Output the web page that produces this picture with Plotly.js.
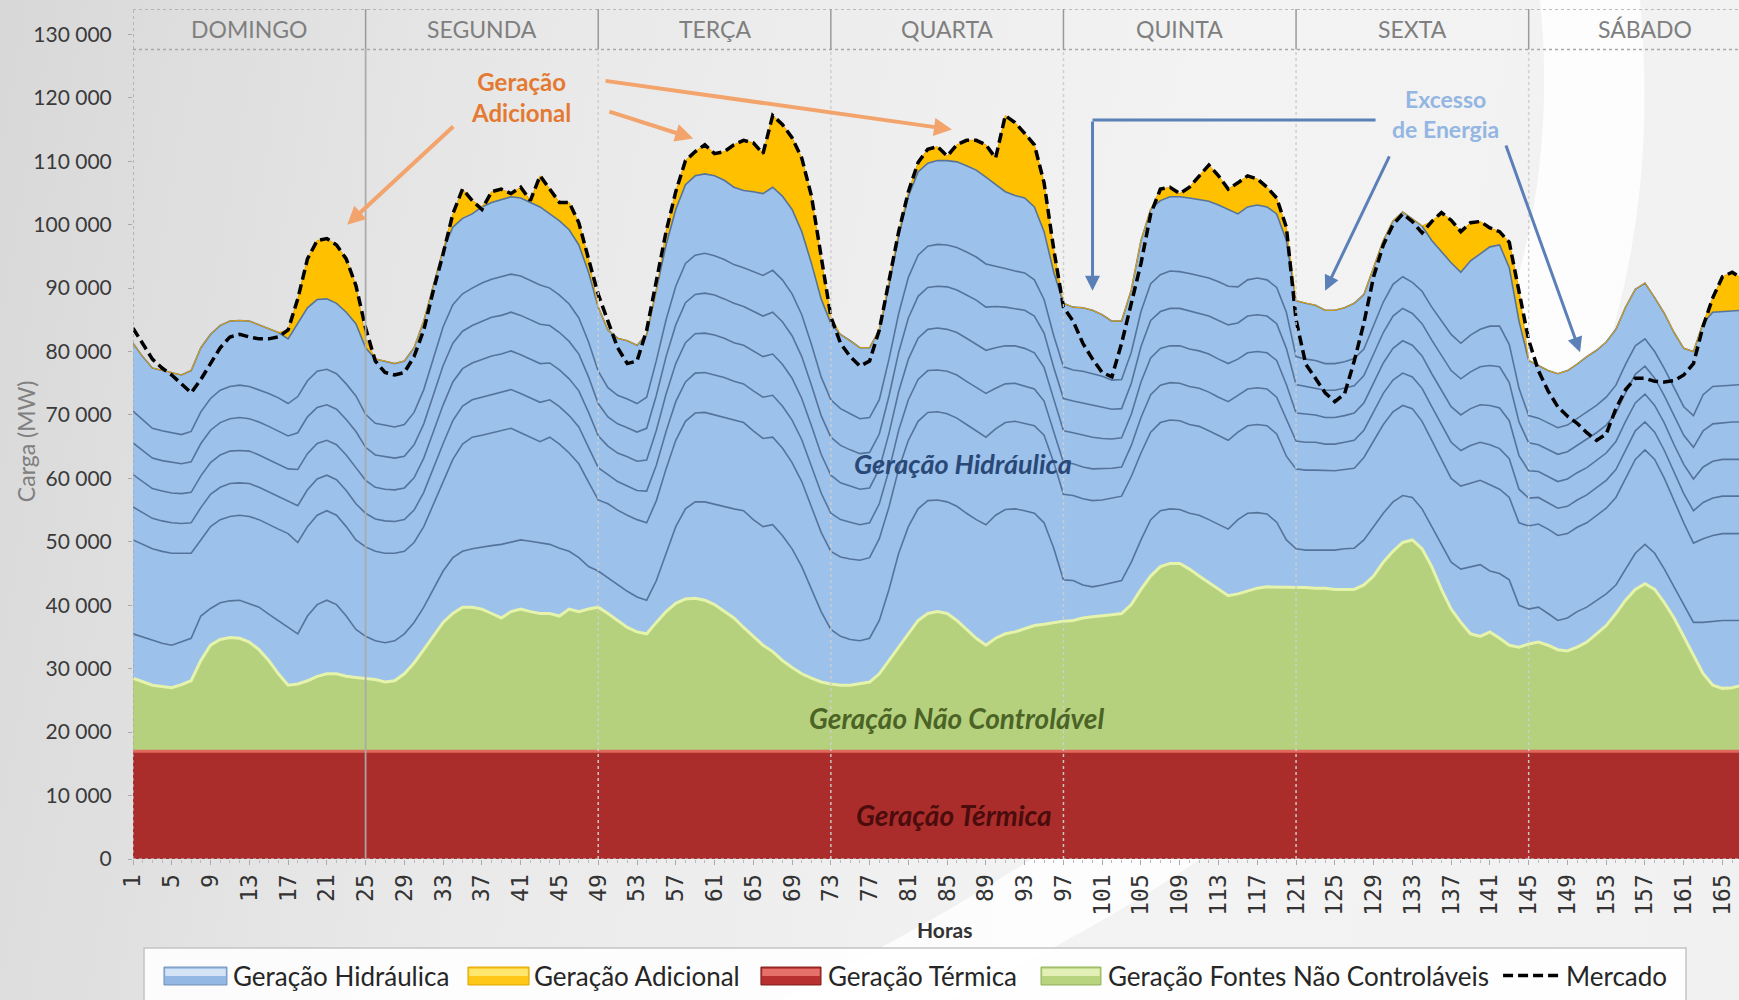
<!DOCTYPE html>
<html>
<head>
<meta charset="utf-8">
<script src="https://cdn.plot.ly/plotly-3.0.1.min.js"></script>
<style>
  html, body { margin:0; padding:0; width:1739px; height:1000px; overflow:hidden;
    background: linear-gradient(100deg, #d8d8d8 0%, #e9e9e9 30%, #f3f3f3 65%, #f1f1f1 100%); }
  #chart { width:1739px; height:1000px; }
</style>
</head>
<body>
<div id="chart"></div>
<script>
// Hours (categories)
const hours = [1,2,3,4,5,6,7,8,9,10,11,12,13,14,15,16,17,18,19,20,21,22,23,24,
25,26,27,28,29,30,31,32,33,34,35,36,37,38,39,40,41,42,43,44,45,46,47,48,
49,50,51,52,53,54,55,56,57,58,59,60,61,62,63,64,65,66,67,68,69,70,71,72,
73,74,75,76,77,78,79,80,81,82,83,84,85,86,87,88,89,90,91,92,93,94,95,96,
97,98,99,100,101,102,103,104,105,106,107,108,109,110,111,112,113,114,115,116,117,118,119,120,
121,122,123,124,125,126,127,128,129,130,131,132,133,134,135,136,137,138,139,140,141,142,143,144,
145,146,147,148,149,150,151,152,153,154,155,156,157,158,159,160,161,162,163,164,165,166,167,168];

// Values in thousands of MW (cumulative tops of the stacked areas)
const termica = [17,17,17,17,17,17,17,17,17,17,17,17,17,17,17,17,17,17,17,17,17,17,17,17,
17,17,17,17,17,17,17,17,17,17,17,17,17,17,17,17,17,17,17,17,17,17,17,17,
17,17,17,17,17,17,17,17,17,17,17,17,17,17,17,17,17,17,17,17,17,17,17,17,
17,17,17,17,17,17,17,17,17,17,17,17,17,17,17,17,17,17,17,17,17,17,17,17,
17,17,17,17,17,17,17,17,17,17,17,17,17,17,17,17,17,17,17,17,17,17,17,17,
17,17,17,17,17,17,17,17,17,17,17,17,17,17,17,17,17,17,17,17,17,17,17,17,
17,17,17,17,17,17,17,17,17,17,17,17,17,17,17,17,17,17,17,17,17,17,17,17];

const naoControlavelTopo = [28.5,28.0,27.4,27.2,27.0,27.5,28.1,31.3,33.7,34.6,34.9,34.8,34.2,33.0,31.3,29.2,27.4,27.6,28.1,28.8,29.2,29.2,28.8,28.6,
28.5,28.3,27.9,28.1,29.2,30.9,33.0,35.1,37.3,38.7,39.7,39.7,39.4,38.7,38.0,39.0,39.4,39.0,38.7,38.7,38.3,39.4,39.0,39.4,
39.7,38.7,37.6,36.5,35.8,35.5,37.3,39.0,40.3,41.0,41.1,40.8,40.1,39.0,38.0,36.5,35.1,33.7,32.7,31.3,30.2,29.2,28.5,27.9,
27.6,27.4,27.4,27.6,27.9,29.2,31.3,33.4,35.5,37.6,38.7,39.0,38.7,37.6,36.2,34.8,33.7,34.8,35.5,35.8,36.3,36.8,37.0,37.3,
37.5,37.6,38.0,38.2,38.3,38.5,38.7,40.1,42.5,44.6,46.1,46.6,46.6,45.7,44.6,43.6,42.5,41.5,41.8,42.3,42.7,42.9,42.9,42.9,
42.9,42.8,42.7,42.7,42.5,42.5,42.5,43.2,44.6,46.8,48.5,49.9,50.3,48.9,46.1,42.5,39.4,37.3,35.5,35.1,35.8,34.8,33.7,33.4,
33.9,34.2,33.7,33.0,32.8,33.4,34.2,35.5,36.8,38.7,40.8,42.5,43.4,42.5,40.4,38.0,35.1,32.3,29.2,27.4,26.9,27.0,27.4,27.6];

const hidroL1 = [35.5,35.0,34.4,34.0,33.7,34.2,34.8,38.3,39.5,40.4,40.7,40.8,40.3,39.7,38.6,37.6,36.5,35.5,38.3,40.1,40.8,40.1,38.3,36.2,
35.1,34.4,34.1,34.4,35.5,37.3,39.7,42.5,45.4,47.5,48.5,48.9,49.2,49.4,49.6,50.0,50.3,50.1,49.9,49.6,49.0,48.5,47.5,46.1,
45.4,44.3,43.2,42.2,41.3,40.8,43.9,48.2,52.4,55.2,56.3,56.3,55.9,55.6,55.2,54.9,53.5,52.4,52.7,51.0,48.9,46.1,42.5,39.0,
36.2,35.1,34.6,34.4,34.8,37.6,42.5,48.2,52.4,55.2,56.5,56.6,56.3,55.6,54.5,53.5,52.7,54.2,55.1,55.2,54.9,54.5,53.0,49.0,
44.0,43.9,43.2,42.9,43.2,43.6,43.9,46.8,50.3,53.5,54.9,55.2,55.1,54.5,54.2,53.5,52.7,52.0,53.5,54.5,54.6,54.4,53.1,50.3,
48.9,48.7,48.7,48.7,48.7,48.9,49.0,50.3,52.4,54.5,56.3,57.3,57.0,55.2,52.4,49.6,46.8,45.7,46.1,46.4,45.4,45.0,44.0,40.0,
39.4,39.7,38.7,37.6,38.0,39.0,39.7,40.8,41.8,43.2,45.7,48.2,49.6,48.2,45.7,42.9,40.1,37.3,37.3,37.5,37.6,37.6,37.6,37.6];

const hidroL2 = [50.3,49.6,48.9,48.5,48.2,48.2,48.2,50.3,52.4,53.5,54.0,54.2,54.0,53.5,52.7,52.0,51.3,49.9,52.4,54.2,54.9,54.2,52.4,50.3,
49.2,48.5,48.2,48.2,48.5,49.9,52.4,55.9,59.4,63.0,65.4,66.5,66.8,67.2,67.5,67.9,67.2,66.5,65.8,66.5,65.4,64.0,62.3,59.4,
56.6,56.0,55.0,54.2,53.5,53.0,56.5,61.5,66.0,69.0,70.3,70.4,70.0,69.6,69.2,68.8,67.5,66.3,66.5,64.8,62.5,59.5,55.5,51.5,
48.5,47.6,47.3,47.1,47.5,50.5,55.5,61.5,66.0,69.0,70.4,70.5,70.2,69.5,68.5,67.5,66.5,67.8,68.8,69.0,68.7,68.3,66.8,62.5,
57.5,57.3,56.8,56.5,56.6,56.9,57.2,60.3,64.0,67.3,68.8,69.2,69.1,68.5,68.2,67.5,66.7,66.0,67.3,68.3,68.5,68.3,67.0,63.5,
61.5,61.3,61.3,61.2,61.2,61.4,61.6,63.3,66.0,68.5,70.5,71.5,71.0,69.0,66.0,63.0,60.0,58.8,59.3,59.7,59.0,58.3,57.0,53.0,
52.5,52.8,52.0,51.0,51.3,52.3,53.0,54.2,55.3,57.0,60.0,63.0,64.5,63.0,60.0,56.5,53.0,49.8,50.5,51.0,51.3,51.3,51.3,51.3];

const hidroL2b = [55.5,54.6,53.7,53.3,53.0,52.9,53.0,55.4,57.5,58.6,59.2,59.3,59.2,58.6,57.9,57.2,56.4,55.7,58.2,59.9,60.5,59.8,58.1,56.0,
54.5,53.6,53.3,53.2,53.5,55.0,57.8,61.7,65.5,69.1,71.4,72.4,72.8,73.3,73.6,74.0,73.4,72.7,72.0,72.4,71.3,69.9,68.1,64.9,
61.7,60.6,59.5,58.8,58.1,58.0,62.1,67.4,72.1,75.2,76.6,76.7,76.3,75.9,75.3,74.9,73.8,72.8,73.1,71.4,69.2,66.1,61.9,57.7,
54.5,53.5,53.1,52.7,53.0,56.0,61.3,67.6,72.4,75.6,77.0,77.1,76.9,76.3,75.3,74.4,73.4,74.2,74.9,75.0,74.6,74.1,72.2,67.5,
62.5,62.3,61.8,61.5,61.5,61.6,61.8,65.2,69.6,73.2,74.7,75.1,75.0,74.5,74.2,73.6,72.8,72.1,73.1,74.1,74.3,74.1,72.8,69.2,
65.9,65.7,65.7,65.4,65.4,65.7,66.0,67.6,70.6,73.4,75.5,76.6,76.0,74.2,71.3,68.5,65.7,64.4,65.2,65.7,65.3,64.7,63.1,58.3,
56.9,57.0,56.2,55.3,55.6,56.6,57.4,58.6,59.7,61.4,64.5,67.5,68.9,67.3,64.4,60.9,57.6,54.9,56.2,56.9,57.2,57.2,57.2,57.2];

const hidroL3 = [60.6,59.5,58.4,58.0,57.7,57.6,57.8,60.4,62.5,63.7,64.3,64.4,64.3,63.7,63.0,62.3,61.5,61.4,63.9,65.5,66.0,65.3,63.7,61.7,
59.7,58.6,58.3,58.2,58.5,60.1,63.2,67.4,71.6,75.2,77.3,78.2,78.8,79.3,79.6,80.1,79.5,78.8,78.1,78.2,77.1,75.7,73.8,70.4,
66.7,65.1,64.0,63.4,62.7,62.9,67.6,73.3,78.1,81.4,82.8,82.9,82.6,82.1,81.4,81.0,80.1,79.2,79.6,78.0,75.8,72.6,68.3,63.8,
60.5,59.3,58.8,58.3,58.5,61.5,67.1,73.7,78.8,82.1,83.5,83.7,83.5,83.0,82.1,81.2,80.2,80.6,80.9,80.9,80.5,79.8,77.5,72.5,
67.5,67.2,66.8,66.5,66.3,66.2,66.4,70.1,75.2,79.0,80.5,80.9,80.9,80.4,80.1,79.6,78.8,78.1,78.8,79.8,80.0,79.8,78.6,74.8,
70.3,70.1,70.0,69.6,69.6,69.9,70.3,71.9,75.1,78.2,80.5,81.7,81.0,79.3,76.5,73.9,71.3,70.0,71.0,71.6,71.5,71.1,69.1,63.6,
61.2,61.1,60.3,59.5,59.9,60.9,61.7,62.9,64.0,65.8,69.0,71.9,73.3,71.5,68.7,65.3,62.2,59.9,61.8,62.7,63.0,63.0,63.0,63.0];

const hidroL3b = [65.6,64.4,63.2,62.8,62.5,62.3,62.6,65.5,67.6,68.8,69.4,69.6,69.4,68.9,68.2,67.5,66.7,67.2,69.7,71.2,71.6,70.9,69.3,67.4,
64.9,63.7,63.4,63.2,63.5,65.3,68.6,73.2,77.8,81.3,83.2,84.1,84.8,85.4,85.7,86.2,85.7,85.0,84.3,84.1,83.0,81.6,79.6,76.0,
71.8,69.7,68.6,68.0,67.3,67.9,73.1,79.2,84.2,87.7,89.0,89.2,88.9,88.3,87.6,87.1,86.4,85.6,86.2,84.7,82.5,79.2,74.7,69.9,
66.5,65.2,64.5,63.9,64.1,67.0,73.0,79.9,85.3,88.7,90.1,90.3,90.2,89.7,88.9,88.1,87.0,87.1,87.0,86.8,86.5,85.6,82.9,77.5,
72.6,72.2,71.9,71.5,71.2,70.9,71.0,75.0,80.8,84.9,86.3,86.8,86.8,86.4,86.1,85.6,84.9,84.2,84.5,85.6,85.8,85.6,84.4,80.5,
74.8,74.5,74.3,73.9,73.9,74.2,74.6,76.2,79.6,83.0,85.6,86.8,86.0,84.4,81.8,79.4,77.0,75.7,76.8,77.6,77.8,77.6,75.1,68.9,
65.6,65.3,64.5,63.8,64.2,65.2,66.1,67.2,68.4,70.3,73.5,76.4,77.7,75.8,73.0,69.8,66.8,64.9,67.5,68.6,68.8,68.9,68.9,68.9];

const hidroL4 = [70.6,69.3,67.9,67.5,67.2,66.9,67.4,70.5,72.6,73.9,74.5,74.7,74.5,74.0,73.4,72.7,71.8,72.9,75.4,76.9,77.2,76.5,74.9,73.0,
70.1,68.7,68.4,68.1,68.5,70.4,74.0,78.9,83.9,87.4,89.1,90.0,90.8,91.4,91.8,92.2,91.9,91.2,90.5,90.0,88.9,87.5,85.3,81.5,
76.9,74.3,73.1,72.5,71.8,72.8,78.6,85.0,90.3,93.9,95.2,95.5,95.1,94.5,93.7,93.2,92.6,92.0,92.8,91.3,89.1,85.8,81.1,76.0,
72.4,71.0,70.2,69.4,69.6,72.4,78.8,86.0,91.7,95.2,96.6,96.9,96.8,96.4,95.7,94.9,93.8,93.5,93.1,92.7,92.4,91.3,88.2,82.5,
77.6,77.1,76.9,76.5,76.1,75.5,75.6,79.9,86.3,90.7,92.1,92.7,92.6,92.3,92.0,91.6,91.0,90.3,90.2,91.3,91.6,91.3,90.1,86.2,
79.2,78.8,78.6,78.1,78.1,78.4,78.9,80.4,84.1,87.8,90.6,91.8,90.9,89.5,87.0,84.9,82.7,81.3,82.6,83.5,84.0,84.0,81.1,74.2,
69.9,69.5,68.7,68.0,68.4,69.4,70.5,71.5,72.8,74.7,78.0,80.9,82.0,80.0,77.3,74.2,71.3,69.9,73.2,74.5,74.6,74.8,74.8,74.8];

const hidroTopo = [81.3,79.2,77.4,77.0,76.7,76.3,77.0,80.6,82.7,84.1,84.8,84.9,84.8,84.2,83.7,83.0,82.0,84.4,86.9,88.2,88.3,87.6,86.2,84.4,
80.6,78.8,78.5,78.1,78.5,80.6,84.8,90.4,96.1,99.6,101.0,101.7,102.8,103.5,103.9,104.4,104.2,103.5,102.8,101.7,100.6,99.2,96.8,92.5,
87.0,83.4,82.1,81.7,81.0,82.7,89.7,96.8,102.4,106.3,107.7,108.0,107.7,107.0,105.9,105.4,105.2,104.9,105.9,104.5,102.4,98.9,93.9,88.3,
84.4,82.7,81.7,80.6,80.6,83.4,90.4,98.2,104.5,108.3,109.7,110.1,110.1,109.9,109.3,108.6,107.5,106.3,105.2,104.6,104.2,102.8,98.9,92.5,
87.6,87.0,86.9,86.5,85.8,84.8,84.8,89.7,97.5,102.4,103.8,104.4,104.4,104.2,103.9,103.7,103.1,102.4,101.7,102.8,103.1,102.8,101.7,97.5,
88.0,87.6,87.3,86.5,86.5,86.9,87.6,89.0,93.2,97.5,100.6,102.0,100.9,99.8,97.5,95.8,94.0,92.5,94.3,95.4,96.5,96.8,93.2,84.8,
78.6,77.8,77.0,76.5,77.0,78.0,79.2,80.2,81.5,83.5,87.0,89.8,90.8,88.5,86.0,83.0,80.5,80.0,84.5,86.2,86.3,86.5,86.5,86.5];

const adicionalTopo = [81.3,79.2,77.4,77.0,76.7,76.3,77.0,80.6,82.7,84.1,84.8,84.9,84.8,84.2,83.7,83.0,83.4,88.3,94.6,97.5,97.8,96.8,94.6,90.4,
82.0,78.8,78.5,78.1,78.5,80.6,84.8,90.4,96.1,101.7,105.6,103.8,102.8,105.2,105.6,104.9,105.9,103.8,107.7,105.6,103.5,103.5,100.3,94.6,
87.0,83.4,82.1,81.7,81.0,82.7,89.7,98.9,105.2,110.1,111.5,112.6,111.2,111.5,112.6,113.3,112.9,111.2,117.2,115.8,113.7,110.5,104.5,94.6,
85.5,82.7,81.7,80.6,80.6,83.4,91.1,98.9,105.2,109.8,111.9,112.3,110.8,112.6,113.3,113.3,112.6,110.5,117.2,116.1,114.4,112.6,106.6,96.1,
87.6,87.0,86.9,86.5,85.8,84.8,84.8,89.7,97.5,102.4,105.6,105.9,104.9,105.9,107.7,109.4,107.7,105.6,106.6,107.7,107.2,105.9,104.2,99.6,
88.0,87.6,87.3,86.5,86.5,86.9,87.6,89.0,93.2,97.5,100.6,102.0,100.9,99.8,100.5,101.9,100.7,98.9,100.3,100.5,99.5,98.9,97.2,89.8,
78.6,77.8,77.0,76.5,77.0,78.0,79.2,80.2,81.5,83.5,87.0,89.8,90.8,88.5,86.0,83.0,80.5,80.0,84.5,88.5,91.8,92.5,91.5,89.5];

const mercado = [83.7,81.3,78.8,77.4,76.3,74.9,73.5,75.6,78.1,80.6,82.3,82.7,82.3,82.0,82.0,82.3,83.4,88.3,94.6,97.5,97.8,96.8,94.6,90.4,
83.7,78.5,76.7,76.3,76.7,79.2,83.4,89.7,95.4,101.7,105.6,103.8,102.4,105.2,105.6,104.9,105.9,103.8,107.7,105.6,103.5,103.5,100.3,94.6,
89.0,84.8,80.6,78.1,78.5,83.4,91.1,98.9,105.2,110.1,111.5,112.6,111.2,111.5,112.6,113.3,112.9,111.2,117.2,115.8,113.7,110.5,104.5,94.6,
85.5,81.3,79.2,77.7,78.5,83.4,91.1,98.9,105.2,109.8,111.9,112.3,110.8,112.6,113.3,113.3,112.6,110.5,117.2,116.1,114.4,112.6,106.6,96.1,
87.0,84.8,81.3,78.8,76.7,76.0,81.3,87.6,93.9,101.7,105.6,105.9,104.9,105.9,107.7,109.4,107.7,105.6,106.6,107.7,107.2,105.9,104.2,99.6,
85.0,78.0,75.8,73.5,72.1,73.3,78.5,84.5,91.8,96.8,100.0,101.7,100.5,98.7,100.5,101.9,100.7,98.9,100.3,100.5,99.5,98.9,97.2,89.8,
81.8,77.0,73.8,71.3,69.8,68.7,67.2,66.0,67.0,71.0,74.0,75.8,75.8,75.3,75.2,75.4,76.3,78.1,84.0,88.5,91.8,92.5,91.5,89.5];

// Axis ticks and labels
const xTicks = [1,5,9,13,17,21,25,29,33,37,41,45,49,53,57,61,65,69,73,77,81,85,89,93,97,101,105,109,113,117,121,125,129,133,137,141,145,149,153,157,161,165];
const yTickVals = [0,10,20,30,40,50,60,70,80,90,100,110,120,130];
const yTickText = ['0','10 000','20 000','30 000','40 000','50 000','60 000','70 000','80 000','90 000','100 000','110 000','120 000','130 000'];
const dayNames = ['DOMINGO','SEGUNDA','TERÇA','QUARTA','QUINTA','SEXTA','SÁBADO'];
const dayCenters = [13,37,61,85,109,133,157];
const daySeparators = [25,49,73,97,121,145];

// Legend entries (drawn as shapes + text)
const legendNames = ['Geração Hidráulica','Geração Adicional','Geração Térmica','Geração Fontes Não Controláveis','Mercado'];
const legendFill = ['#94b8e4','#ffc819','#b8302f','#b8d47f', null];
const legendLight = ['#d4e4f6','#ffe66e','#e6706a','#e2f0b8', null];
const legendBorder = ['#6f8fb8','#d9a400','#7e1b1b','#8fae55', null];

const X0 = 1, X1 = 166.7, YTOP = 134, BAND = 127.6;

const blueFill = '#9cc1ea', blueLine = '#55749c';
function band(y) {
  return {x: hours, y: y, type:'scatter', mode:'lines', fill:'tonexty',
    fillcolor: blueFill, line:{color: blueLine, width:1.6}, hoverinfo:'skip', name:'Geração Hidráulica', showlegend:false};
}

const traces = [
  {x: hours, y: termica, type:'scatter', mode:'lines', name:'Geração Térmica', fill:'tozeroy',
   fillcolor:'#ab2d2b', line:{color:'#e0685c', width:3}, hoverinfo:'skip', showlegend:false},
  {x: hours, y: naoControlavelTopo, type:'scatter', mode:'lines', name:'Geração Fontes Não Controláveis', fill:'tonexty',
   fillcolor:'#b5d17e', line:{color:'#e5f3ab', width:3}, hoverinfo:'skip', showlegend:false},
  band(hidroL1), band(hidroL2), band(hidroL2b), band(hidroL3), band(hidroL3b), band(hidroL4), band(hidroTopo),
  {x: hours, y: adicionalTopo, type:'scatter', mode:'lines', name:'Geração Adicional', fill:'tonexty',
   fillcolor:'#ffc000', line:{color:'#e8a400', width:1}, hoverinfo:'skip', showlegend:false},
  {x: hours, y: mercado, type:'scatter', mode:'lines', name:'Mercado',
   line:{color:'#000000', width:3.5, dash:'10px,5px'}, hoverinfo:'skip', showlegend:false}
];

const shapes = [];
// decorative white swoosh
shapes.push({type:'path', xref:'paper', yref:'paper', layer:'below',
  path:'M 0.8761,1.0106 L 0.9384,1.0106 Q 0.9757,0.2463 0.5087,-0.1652 L 0.4029,-0.1652 Q 0.9135,0.3051 0.8761,1.0106 Z',
  fillcolor:'rgba(255,255,255,0.8)', line:{width:0}});
// dotted frame
shapes.push({type:'line', xref:'x', yref:'y', x0:X0, x1:X0, y0:0, y1:YTOP, line:{color:'#a8a8a8', width:1.5, dash:'dot'}, layer:'above'});
shapes.push({type:'line', xref:'x', yref:'y', x0:X0, x1:X1, y0:YTOP, y1:YTOP, line:{color:'#a8a8a8', width:1.5, dash:'dot'}});
shapes.push({type:'line', xref:'x', yref:'y', x0:X0, x1:X1, y0:BAND, y1:BAND, line:{color:'#a8a8a8', width:1.5, dash:'dot'}});
shapes.push({type:'line', xref:'x', yref:'y', x0:X0, x1:X1, y0:0, y1:0, line:{color:'#b0b0b0', width:1.5, dash:'dot'}, layer:'above'});
daySeparators.forEach((h, i) => {
  shapes.push({type:'line', xref:'x', yref:'y', x0:h, x1:h, y0:0, y1:BAND, layer:'above',
    line:{color: i === 0 ? 'rgba(170,170,170,0.95)' : 'rgba(205,205,205,0.95)', width: i === 0 ? 1.8 : 1.5, dash: i === 0 ? 'solid' : 'dot'}});
  shapes.push({type:'line', xref:'x', yref:'y', x0:h, x1:h, y0:BAND, y1:YTOP, line:{color:'#9a9a9a', width:1.5}});
});
// blue elbow connector
shapes.push({type:'line', xref:'x', yref:'y', x0:129.2, x1:100.0, y0:116.5, y1:116.5, line:{color:'#5b80b8', width:3}, layer:'above'});

// custom legend (paper coordinates)
const legSwatchX = [[0.0193,0.0585],[0.2086,0.2466],[0.3910,0.4284],[0.5654,0.6027],[0.8531,0.8885]];
const legTextX = [0.0610,0.2484,0.4315,0.6059,0.8910];
const legY0 = -0.1482, legY1 = -0.1271, legYc = -0.1372;
shapes.push({type:'rect', xref:'paper', yref:'paper', x0:0.00685, x1:0.967, y0:-0.20, y1:-0.1047,
  fillcolor:'rgba(255,255,255,0.88)', line:{color:'#c4c4c4', width:1.5}, layer:'above'});
legendNames.forEach((n, i) => {
  const sx = legSwatchX[i];
  if (legendFill[i]) {
    shapes.push({type:'rect', xref:'paper', yref:'paper', x0:sx[0], x1:sx[1], y0:legY0, y1:legY1,
      fillcolor:legendFill[i], line:{color:legendBorder[i], width:1}, layer:'above'});
    shapes.push({type:'rect', xref:'paper', yref:'paper', x0:sx[0]+0.0008, x1:sx[1]-0.0008, y0:(legY0+legY1)/2, y1:legY1-0.002,
      fillcolor:legendLight[i], line:{width:0}, layer:'above'});
  } else {
    shapes.push({type:'line', xref:'paper', yref:'paper', x0:sx[0], x1:sx[1], y0:legYc, y1:legYc,
      line:{color:'#000000', width:3.5, dash:'10px,5px'}, layer:'above'});
  }
});

const annotations = [];
dayNames.forEach((d, i) => {
  annotations.push({x: dayCenters[i], y: (BAND + YTOP) / 2, xref:'x', yref:'y', text: d, showarrow:false,
    font:{family:'Lato, sans-serif', size:23, color:'#7f7f7f'}});
});
legendNames.forEach((n, i) => {
  annotations.push({xref:'paper', yref:'paper', x:legTextX[i], y:legYc, xanchor:'left', yanchor:'middle', text:n,
    showarrow:false, font:{family:'Lato, sans-serif', size:26, color:'#262626'}});
});
annotations.push({xref:'paper', yref:'paper', x:-0.077, y:0.492, text:'Carga (MW)', textangle:-90, showarrow:false,
  font:{family:'Lato, sans-serif', size:23, color:'#808080'}});
annotations.push({xref:'paper', yref:'paper', x:0.5056, y:-0.1005, text:'<b>Horas</b>', showarrow:false,
  font:{family:'Lato, sans-serif', size:21, color:'#333333'}});
annotations.push({x:86.6, y:62.4, xref:'x', yref:'y', text:'<b><i>Geração Hidráulica</i></b>', showarrow:false,
  font:{family:'Lato, sans-serif', size:27, color:'#2a4877'}});
annotations.push({x:86.0, y:22.2, xref:'x', yref:'y', text:'<b><i>Geração Não Controlável</i></b>', showarrow:false,
  font:{family:'Lato, sans-serif', size:28, color:'#4c6326'}});
annotations.push({x:85.7, y:7.0, xref:'x', yref:'y', text:'<b><i>Geração Térmica</i></b>', showarrow:false,
  font:{family:'Lato, sans-serif', size:28, color:'#4a0c0c'}});
annotations.push({x:41.0, y:120.2, xref:'x', yref:'y', text:'<b>Geração<br>Adicional</b>', showarrow:false,
  font:{family:'Lato, sans-serif', size:24, color:'#e47a32'}});
annotations.push({x:136.4, y:117.5, xref:'x', yref:'y', text:'<b>Excesso<br>de Energia</b>', showarrow:false,
  font:{family:'Lato, sans-serif', size:23, color:'#93b6e2'}});
// orange arrows
[[23.1,100.0,34.2,115.7],[58.8,113.6,50.0,117.9],[85.5,115.0,49.6,122.7]].forEach(a => {
  annotations.push({x:a[0], y:a[1], ax:a[2], ay:a[3], xref:'x', yref:'y', axref:'x', ayref:'y', text:'',
    showarrow:true, arrowhead:2, arrowsize:0.9, arrowwidth:4, arrowcolor:'#f2a46c', standoff:0});
});
// blue arrows
[[100.0,89.6,100.0,116.5],[124.0,89.6,130.7,111.0],[150.3,79.9,142.6,112.7]].forEach(a => {
  annotations.push({x:a[0], y:a[1], ax:a[2], ay:a[3], xref:'x', yref:'y', axref:'x', ayref:'y', text:'',
    showarrow:true, arrowhead:2, arrowsize:1, arrowwidth:3, arrowcolor:'#5b80b8', standoff:0});
});

const layout = {
  width:1739, height:1000,
  margin:{l:133, r:0, t:9, b:141, autoexpand:false},
  paper_bgcolor:'rgba(0,0,0,0)', plot_bgcolor:'rgba(0,0,0,0)',
  font:{family:'Lato, sans-serif', color:'#3a3a3a'},
  showlegend:false,
  xaxis:{range:[X0, X1], tickmode:'array', tickvals:xTicks, tickangle:-90,
    tickfont:{family:'DejaVu Sans Mono, monospace', size:23, color:'#333333'},
    ticks:'outside', ticklen:5, tickcolor:'#aaaaaa', showgrid:false, zeroline:false, showline:false,
    minor:{ticks:'outside', ticklen:3, dtick:1, tick0:1, tickcolor:'#bbbbbb'}},
  yaxis:{range:[0, YTOP], tickmode:'array', tickvals:yTickVals, ticktext:yTickText,
    tickfont:{family:'Lato, sans-serif', size:21, color:'#3a3a3a'}, ticklabelstandoff:12,
    ticks:'outside', ticklen:4, tickcolor:'#aaaaaa', showgrid:false, zeroline:false, showline:false},
  shapes: shapes,
  annotations: annotations
};

Plotly.newPlot('chart', traces, layout, {displayModeBar:false, staticPlot:true});
</script>
</body>
</html>
